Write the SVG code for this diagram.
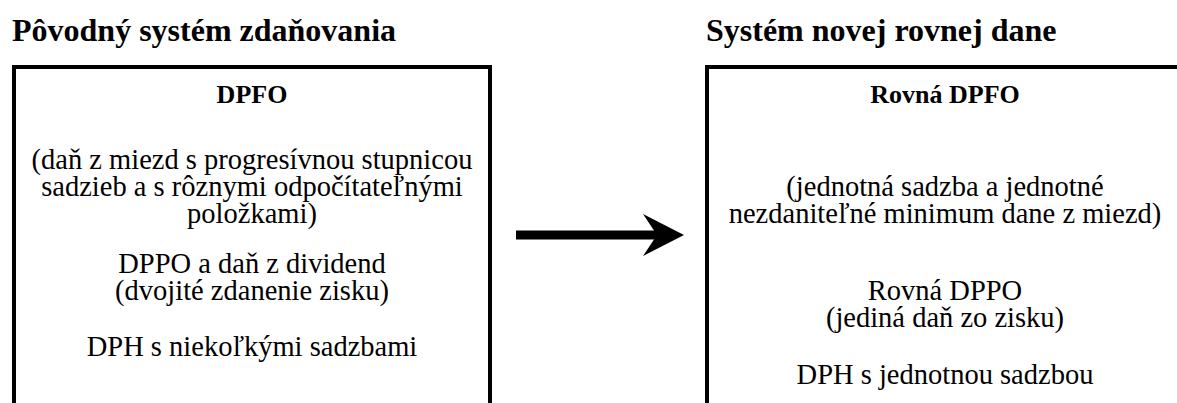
<svg xmlns="http://www.w3.org/2000/svg" width="1177" height="403" viewBox="0 0 1177 403">
  <style>
    .title { font-family: "Liberation Serif", "Times New Roman", serif; font-size: 32px; font-weight: bold; fill: #000; }
    .head { font-family: "Liberation Serif", "Times New Roman", serif; font-size: 26px; font-weight: bold; fill: #000; text-anchor: middle; }
    .body { font-family: "Liberation Serif", "Times New Roman", serif; font-size: 28.5px; fill: #000; text-anchor: middle; }
    .frame { fill: #fff; stroke: #000; stroke-width: 4; }
    .link { stroke: #000; stroke-width: 9; fill: none; }
  </style>
  <defs>
    <marker id="arrowhead" markerUnits="userSpaceOnUse" markerWidth="41" markerHeight="42" viewBox="0 0 41 42" refX="14" refY="21" orient="auto">
      <path d="M0,0 L41,21 L0,42 L14,21 Z" fill="#000"/>
    </marker>
  </defs>
  <rect width="1177" height="403" fill="#fff"/>

  <!-- original tax system -->
  <g id="old-system">
    <text class="title" x="12" y="41">Pôvodný systém zdaňovania</text>
    <rect class="frame" x="14" y="67" width="476" height="360"/>
    <text class="head" x="252" y="103">DPFO</text>
    <text class="body" x="252" y="169">(daň z miezd s progresívnou stupnicou</text>
    <text class="body" x="252" y="196">sadzieb a s rôznymi odpočítateľnými</text>
    <text class="body" x="252" y="223">položkami)</text>
    <text class="body" x="252" y="273">DPPO a daň z dividend</text>
    <text class="body" x="252" y="300">(dvojité zdanenie zisku)</text>
    <text class="body" x="252" y="356">DPH s niekoľkými sadzbami</text>
  </g>

  <!-- flat tax system -->
  <g id="flat-system">
    <text class="title" x="706" y="41">Systém novej rovnej dane</text>
    <rect class="frame" x="707" y="67" width="476" height="360"/>
    <text class="head" x="945" y="103">Rovná DPFO</text>
    <text class="body" x="945" y="196">(jednotná sadzba a jednotné</text>
    <text class="body" x="945" y="223">nezdaniteľné minimum dane z miezd)</text>
    <text class="body" x="945" y="300">Rovná DPPO</text>
    <text class="body" x="945" y="327">(jediná daň zo zisku)</text>
    <text class="body" x="945" y="384">DPH s jednotnou sadzbou</text>
  </g>

  <g id="connectors">
    <line class="link" x1="516" y1="235" x2="657" y2="235" marker-end="url(#arrowhead)"/>
  </g>
</svg>
